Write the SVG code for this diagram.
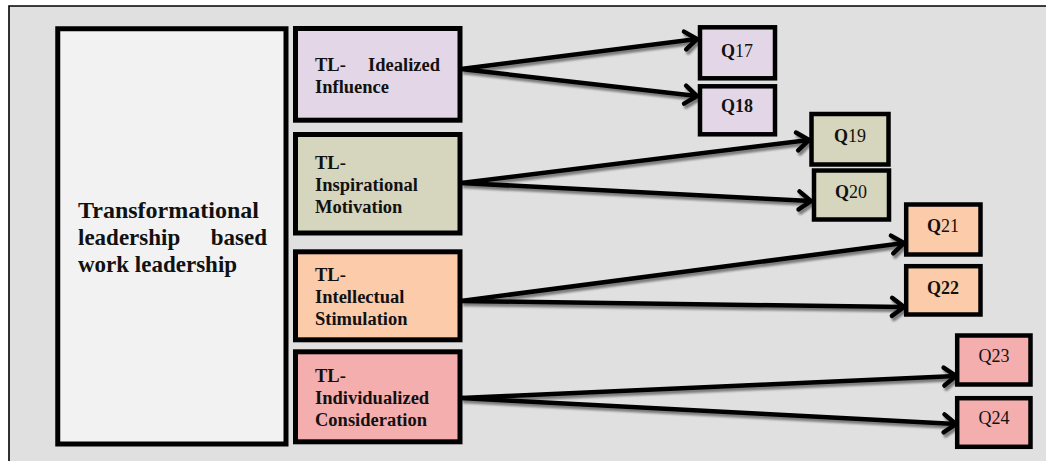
<svg xmlns="http://www.w3.org/2000/svg" width="1046" height="461" viewBox="0 0 1046 461">
  <defs>
    <style>
      .frame { fill: #e0e0e0; }
      .frame-edge { stroke: #000; stroke-width: 1.6; fill: none; }
      .box { stroke: #000; stroke-width: 5; }
      .qbox { stroke: #000; stroke-width: 4.5; }
      .main { fill: #f2f2f2; }
      .c-ii { fill: #e3d7e7; }
      .c-im { fill: #d6d5bd; }
      .c-is { fill: #fccbaa; }
      .c-ic { fill: #f5aeae; }
      text { font-family: "Liberation Serif", "Times New Roman", serif; fill: #111; }
      .title { font-size: 23px; font-weight: bold; }
      .dim { font-size: 18.5px; font-weight: bold; }
      .q { font-size: 18px; text-anchor: middle; }
      .b { font-weight: bold; }
      .link { stroke: #000; stroke-width: 4.5; fill: none; marker-end: url(#chev); }
    </style>
    <marker id="chev" markerUnits="userSpaceOnUse" markerWidth="30" markerHeight="30" refX="0" refY="0" viewBox="-16 -15 20 30" orient="auto">
      <path d="M-12,-9 L0,0 L-12,9" fill="none" stroke="#000" stroke-width="4.5" stroke-linecap="round" stroke-linejoin="miter"/>
    </marker>
    <filter id="shadow" x="-5%" y="-20%" width="110%" height="140%">
      <feDropShadow dx="2" dy="3" stdDeviation="0.8" flood-color="#000" flood-opacity="0.45"/>
    </filter>
  </defs>

  <!-- page frame -->
  <rect x="0" y="0" width="1046" height="461" fill="#fff"/>
  <rect class="frame" x="9" y="6" width="1037" height="455"/>
  <path class="frame-edge" d="M9,461 L9,6 L1046,6"/>

  <!-- connectors -->
  <g id="connectors" filter="url(#shadow)">
    <line class="link" x1="461" y1="69" x2="697" y2="39"/>
    <line class="link" x1="461" y1="69" x2="697" y2="96"/>
    <line class="link" x1="461" y1="183" x2="809" y2="140"/>
    <line class="link" x1="461" y1="183" x2="811" y2="201"/>
    <line class="link" x1="461" y1="301" x2="904" y2="243"/>
    <line class="link" x1="461" y1="301" x2="904" y2="307"/>
    <line class="link" x1="461" y1="398" x2="956" y2="376"/>
    <line class="link" x1="461" y1="398" x2="956" y2="424"/>
  </g>

  <!-- construct -->
  <g id="node-tl">
    <rect class="box main" x="57.75" y="28.75" width="228.25" height="415.25"/>
    <text class="title" x="78" y="218" textLength="181" lengthAdjust="spacingAndGlyphs">Transformational</text>
    <text class="title" x="78" y="245">leadership</text>
    <text class="title" x="267" y="245" text-anchor="end">based</text>
    <text class="title" x="78" y="272">work leadership</text>
  </g>

  <!-- dimensions -->
  <g id="node-ii">
    <rect class="box c-ii" x="295.5" y="28.5" width="164.5" height="91.7"/>
    <text class="dim" x="315" y="70.5">TL-</text>
    <text class="dim" x="440" y="70.5" text-anchor="end">Idealized</text>
    <text class="dim" x="315" y="93">Influence</text>
  </g>
  <g id="node-im">
    <rect class="box c-im" x="295.5" y="134.5" width="164.5" height="98.5"/>
    <text class="dim" x="315" y="169">TL-</text>
    <text class="dim" x="315" y="191">Inspirational</text>
    <text class="dim" x="315" y="213">Motivation</text>
  </g>
  <g id="node-is">
    <rect class="box c-is" x="295.5" y="251.8" width="164.5" height="88"/>
    <text class="dim" x="315" y="281">TL-</text>
    <text class="dim" x="315" y="303">Intellectual</text>
    <text class="dim" x="315" y="325">Stimulation</text>
  </g>
  <g id="node-ic">
    <rect class="box c-ic" x="295.5" y="351.8" width="164.5" height="90"/>
    <text class="dim" x="315" y="382">TL-</text>
    <text class="dim" x="315" y="404">Individualized</text>
    <text class="dim" x="315" y="426">Consideration</text>
  </g>

  <!-- items -->
  <g id="node-q17">
    <rect class="qbox c-ii" x="700" y="27.3" width="75" height="51"/>
    <text class="q" x="737" y="56.5"><tspan class="b">Q</tspan>17</text>
  </g>
  <g id="node-q18">
    <rect class="qbox c-ii" x="700" y="86.3" width="75" height="48"/>
    <text class="q b" x="737" y="111.5">Q18</text>
  </g>
  <g id="node-q19">
    <rect class="qbox c-im" x="811.5" y="114" width="77" height="50.5"/>
    <text class="q" x="850" y="141.5"><tspan class="b">Q</tspan>19</text>
  </g>
  <g id="node-q20">
    <rect class="qbox c-im" x="814" y="170.5" width="75" height="49"/>
    <text class="q" x="851" y="198"><tspan class="b">Q</tspan>20</text>
  </g>
  <g id="node-q21">
    <rect class="qbox c-is" x="906.2" y="204.5" width="74.3" height="50"/>
    <text class="q" x="943" y="232"><tspan class="b">Q</tspan>21</text>
  </g>
  <g id="node-q22">
    <rect class="qbox c-is" x="906.2" y="266.2" width="74.3" height="48.3"/>
    <text class="q b" x="943" y="294">Q22</text>
  </g>
  <g id="node-q23">
    <rect class="qbox c-ic" x="957.2" y="335.5" width="73.3" height="49"/>
    <text class="q" x="994" y="362">Q23</text>
  </g>
  <g id="node-q24">
    <rect class="qbox c-ic" x="957.2" y="398.2" width="73.3" height="48.6"/>
    <text class="q" x="994" y="424">Q24</text>
  </g>
</svg>
